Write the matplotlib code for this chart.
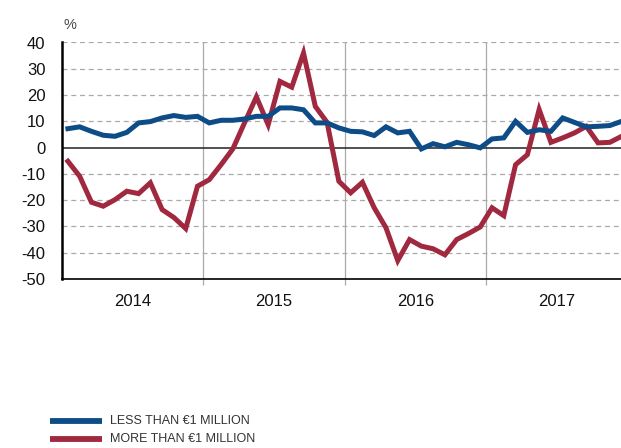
import numpy as np
import matplotlib.pyplot as plt

# monthly data, Jan 2014 - Dec 2017 (%)
less_1m = [7.2, 7.9, 6.2, 4.7, 4.3, 5.8, 9.4, 9.9, 11.3, 12.2, 11.5, 11.9,
           9.4, 10.4, 10.4, 10.9, 11.9, 11.9, 15.1, 15.1, 14.4, 9.4, 9.4, 7.5,
           6.2, 6.0, 4.6, 7.9, 5.6, 6.2, -0.5, 1.5, 0.3, 2.0, 1.1, -0.1,
           3.3, 3.7, 10.0, 5.8, 6.8, 6.2, 11.3, 9.6, 7.9, 8.1, 8.4, 10.0]
more_1m = [-5.2, -10.9, -20.8, -22.3, -19.8, -16.6, -17.5, -13.4, -23.6, -26.6, -30.8, -14.7,
           -12.2, -6.5, -0.5, 9.5, 19.3, 8.7, 25.2, 23.0, 36.0, 15.7, 9.6, -12.8,
           -17.2, -13.2, -22.9, -30.5, -43.0, -35.0, -37.5, -38.5, -40.8, -35.0, -32.7, -30.2,
           -22.9, -25.9, -6.5, -2.7, 14.5, 2.0, 3.7, 5.6, 8.1, 1.8, 2.0, 4.3]
years = ['2014', '2015', '2016', '2017']
labels = ['LESS THAN €1 MILLION', 'MORE THAN €1 MILLION']
colors = ['#0d4c86', '#a0283f']

plt.rcParams['font.family'] = ['Liberation Sans', 'DejaVu Sans']
plt.rcParams['axes.unicode_minus'] = False

fig = plt.figure(figsize=(6.21, 4.48), dpi=100)
ax = fig.add_axes([62/621, 1-279/448, (627.5-62)/621, (279-42.5)/448])

x = np.arange(len(less_1m)) + 0.5
ax.plot(x, less_1m, color=colors[0], lw=3.6, solid_joinstyle='miter', zorder=4)
ax.plot(x, more_1m, color=colors[1], lw=3.6, solid_joinstyle='miter', zorder=3)

ax.set_xlim(0, 48)
ax.set_ylim(-50, 40)

# grid
for v in range(-40, 41, 10):
    if v == 0:
        ax.axhline(0, color='#222222', lw=1.1, zorder=2)
    else:
        ax.axhline(v, color='#aaaaaa', lw=0.9, ls=(0, (4, 3)), zorder=1)
for v in [12, 24, 36]:
    ax.axvline(v, color='#aaaaaa', lw=0.9, zorder=1)

for s in ['top', 'right']:
    ax.spines[s].set_visible(False)
ax.spines['left'].set_linewidth(1.8)
ax.spines['bottom'].set_linewidth(1.2)

ax.set_yticks(range(-50, 41, 10))
ax.tick_params(axis='y', length=0, pad=12, labelsize=12, labelcolor='#111111')
ax.set_xticks([12, 24, 36])
ax.set_xticklabels([])
ax.tick_params(axis='x', which='major', length=4, color='#aaaaaa', width=0.9)
ax.set_xticks([6, 18, 30, 42], minor=True)
ax.set_xticklabels(years, minor=True)
ax.tick_params(axis='x', which='minor', length=0, pad=11, labelsize=12, labelcolor='#111111')

fig.text(70/621, 1-25/448, '%', fontsize=10.5, color='#444444', ha='center', va='center')

# legend
for i, (lab, c) in enumerate(zip(labels, colors)):
    yy = 1 - (421 + 18*i)/448
    fig.add_artist(plt.Line2D([50/621, 102/621], [yy, yy], color=c, lw=4.2,
                              solid_capstyle='butt'))
    fig.text(110/621, yy, lab, fontsize=9, color='#333333', va='center')

fig.savefig('out.png', dpi=100)
